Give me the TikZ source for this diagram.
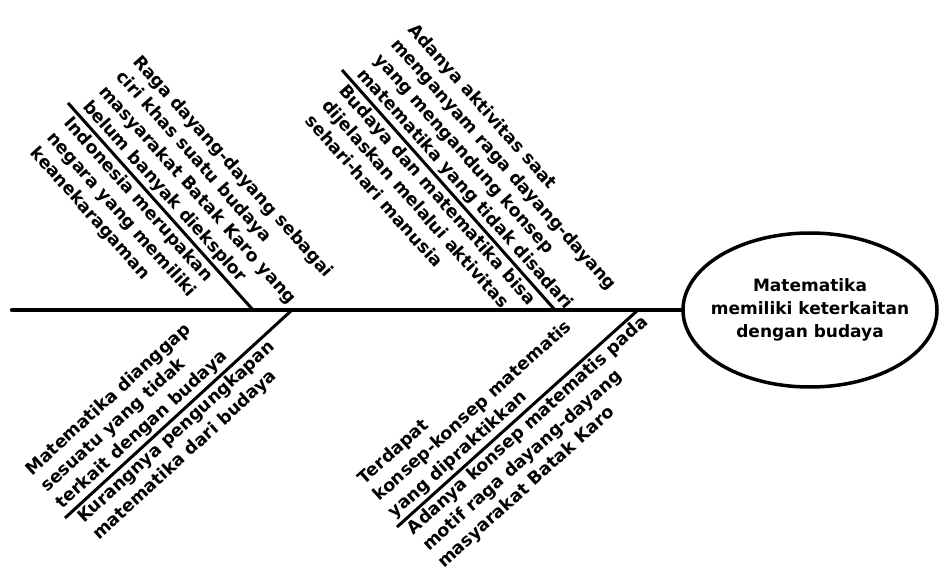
\documentclass[tikz,border=0pt]{standalone}
\usepackage{fontspec}
\setmainfont{DejaVu Sans}
\usepackage{tikz}
\usetikzlibrary{shapes.geometric}

\tikzset{
  bone/.style={line width=3pt},
  cause/.style={font=\bfseries\fontsize{17.5}{22.5}\selectfont, align=left, inner sep=2.5pt, sloped},
}

\begin{document}
\begin{tikzpicture}[x=1pt,y=1pt]
  \useasboundingbox (0,0) rectangle (941,576);

  \node[draw, ellipse, line width=3.5pt, minimum width=254pt, minimum height=154pt, inner sep=0pt,
        align=center, font=\bfseries\fontsize{17}{23}\selectfont] (effect) at (810,266)
        {Matematika\\\makebox[0pt]{memiliki keterkaitan}\\dengan budaya};

  \coordinate (tail) at (12,266);
  \coordinate (top1) at (68,473);
  \coordinate (join1) at (253,266);
  \coordinate (top2) at (342,506);
  \coordinate (join2) at (555,266);
  \coordinate (low3) at (65,58);
  \coordinate (join3) at (292,266);
  \coordinate (low4) at (397,49);
  \coordinate (join4) at (638,266);

  \draw[line width=4.5pt, line cap=round] (tail) -- (effect);

  \draw[bone] (top1) -- (join1)
    node[cause, pos=0.03, anchor=south west] (r1) {Raga dayang-dayang sebagai\\ciri khas suatu budaya\\masyarakat Batak Karo yang\\belum banyak dieksplor}
    node[cause, pos=0.03, anchor=north west] (i1) {Indonesia merupakan\\negara yang memiliki\\keanekaragaman};
  \draw[bone] (top2) -- (join2)
    node[cause, pos=0.03, anchor=south west] (a2) {Adanya aktivitas saat\\menganyam raga dayang-dayang\\yang mengandung konsep\\matematika yang tidak disadari}
    node[cause, pos=0.03, anchor=north west] (b2) {Budaya dan matematika bisa\\dijelaskan melalui aktivitas\\sehari-hari manusia};
  \draw[bone] (low3) -- (join3)
    node[cause, pos=0.0, anchor=south west] (m3) {Matematika dianggap\\sesuatu yang tidak\\terkait dengan budaya}
    node[cause, pos=0.02, anchor=north west] (k3) {Kurangnya pengungkapan\\matematika dari budaya};
  \draw[bone] (low4) -- (join4)
    node[cause, pos=0.0, anchor=south west] (t4) {Terdapat\\konsep-konsep matematis\\yang dipraktikkan}
    node[cause, pos=0.01, anchor=north west] (a4) {Adanya konsep matematis pada\\motif raga dayang-dayang\\masyarakat Batak Karo};
\end{tikzpicture}
\end{document}
